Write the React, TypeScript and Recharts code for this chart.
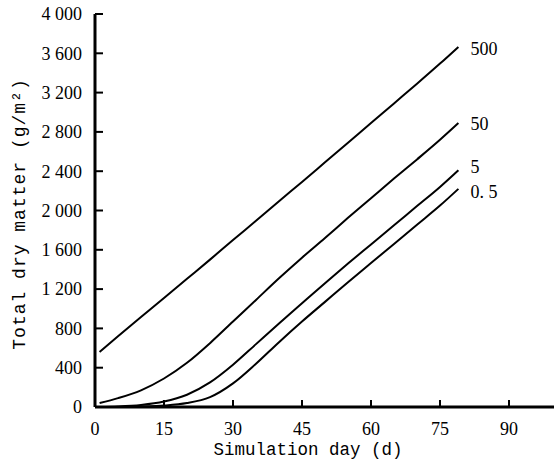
import React from 'react';
import { LineChart, Line, XAxis, YAxis, Label, LabelList } from 'recharts';

const days = [1, 5, 10, 15, 20, 25, 30, 35, 40, 45, 50, 55, 60, 65, 70, 75, 79];
const dm500 = [560, 720, 915, 1110, 1305, 1500, 1700, 1895, 2095, 2290, 2490, 2690, 2890, 3090, 3290, 3495, 3665];
const dm50 = [40, 90, 170, 290, 450, 650, 870, 1090, 1310, 1520, 1720, 1925, 2125, 2325, 2520, 2720, 2890];
const dm5 = [0, 5, 20, 55, 125, 250, 430, 640, 850, 1055, 1260, 1460, 1655, 1850, 2045, 2240, 2410];
const dm05 = [0, 0, 5, 15, 40, 100, 240, 440, 660, 870, 1070, 1270, 1465, 1660, 1855, 2050, 2220];

const seriesKeys = ['s500', 's50', 's5', 's05'];
const seriesNames = ['500', '50', '5', '0. 5'];
const labelDy = [2, 1, -4, 3];

const xTicks = [0, 15, 30, 45, 60, 75, 90];
const yTicks = [0, 400, 800, 1200, 1600, 2000, 2400, 2800, 3200, 3600, 4000];

const data = days.map((d, i) => ({
  day: d,
  s500: dm500[i],
  s50: dm50[i],
  s5: dm5[i],
  s05: dm05[i],
}));

const serif = '"Liberation Serif", "Times New Roman", serif';
const mono = '"Liberation Mono", "DejaVu Sans Mono", monospace';

const fmtY = (v: number) => (v >= 1000 ? `${Math.floor(v / 1000)} ${String(v % 1000).padStart(3, '0')}` : `${v}`);

const YTick = (props: any) => {
  const { x, y, payload } = props;
  return (
    <text x={x} y={y} dy="0.355em" textAnchor="end" fontFamily={serif} fontSize={18} fill="#000">
      {fmtY(payload.value)}
    </text>
  );
};

const XTick = (props: any) => {
  const { x, y, payload } = props;
  return (
    <text x={x} y={y} dy="0.71em" textAnchor="middle" fontFamily={serif} fontSize={18} fill="#000">
      {payload.value}
    </text>
  );
};

const endLabel = (idx: number) => (props: any) => {
  const { x, y, index } = props;
  if (index !== days.length - 1) return null;
  return (
    <text x={x + 12} y={y + labelDy[idx]} dy="0.35em" fontFamily={serif} fontSize={18} fill="#000">
      {seriesNames[idx]}
    </text>
  );
};

export default function App() {
  return (
    <div style={{ position: 'absolute', left: 0, top: 0, width: 554, height: 464, overflow: 'hidden', background: '#fff' }}>
      <style>{'body{margin:0;overflow:hidden}'}</style>
      <LineChart width={560} height={464} data={data} margin={{ top: 14, right: 5, bottom: 0, left: 0 }}>
        <XAxis
          dataKey="day"
          type="number"
          domain={[0, 100]}
          ticks={xTicks}
          height={57}
          stroke="#000"
          axisLine={{ stroke: '#000', strokeWidth: 3 }}
          tickLine={{ stroke: '#000', strokeWidth: 2 }}
          tickSize={-7}
          tickMargin={22}
          tick={<XTick />}
        >
          <Label
            content={() => (
              <text x={308} y={455} textAnchor="middle" fontFamily={mono} fontSize={17.5} fill="#000">
                Simulation day (d)
              </text>
            )}
          />
        </XAxis>
        <YAxis
          type="number"
          domain={[0, 4000]}
          ticks={yTicks}
          width={95}
          stroke="#000"
          axisLine={{ stroke: '#000', strokeWidth: 3 }}
          tickLine={{ stroke: '#000', strokeWidth: 2 }}
          tickSize={-8}
          tickMargin={21}
          tick={<YTick />}
        >
          <Label
            content={() => (
              <text
                x={19}
                y={214}
                transform="rotate(-90, 19, 214)"
                textAnchor="middle"
                dy="0.35em"
                fontFamily={mono}
                fontSize={18}
                letterSpacing={1}
                fill="#000"
              >
                Total dry matter (g/m²)
              </text>
            )}
          />
        </YAxis>
        {seriesKeys.map((k, i) => (
          <Line
            key={k}
            type="monotone"
            dataKey={k}
            stroke="#000"
            strokeWidth={2}
            dot={false}
            isAnimationActive={false}
          >
            <LabelList dataKey={k} content={endLabel(i)} />
          </Line>
        ))}
      </LineChart>
    </div>
  );
}
